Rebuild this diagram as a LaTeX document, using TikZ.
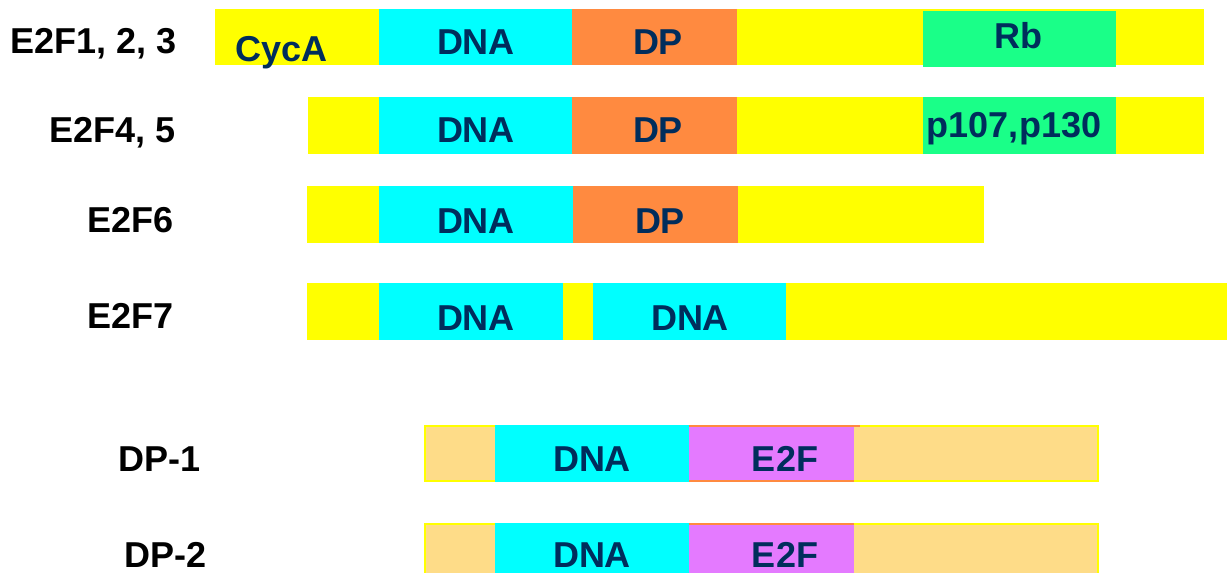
\documentclass[tikz,border=0pt]{standalone}
\usepackage{fontspec}
\setmainfont{Liberation Sans}
\definecolor{cYel}{HTML}{FFFF00}
\definecolor{cCyan}{HTML}{00FFFF}
\definecolor{cOrange}{HTML}{FF8A40}
\definecolor{cGreen}{HTML}{1AFF88}
\definecolor{cMag}{HTML}{E47AFF}
\definecolor{cTan}{HTML}{FEDC88}
\definecolor{cNavy}{HTML}{002D5C}
\tikzset{
  boxtxt/.style={anchor=base, inner sep=0pt, text=cNavy, font=\fontsize{36}{36}\selectfont\bfseries},
  rowlab/.style={anchor=base west, inner sep=0pt, text=black, font=\fontsize{36}{36}\selectfont\bfseries},
  tanbox/.style={fill=cTan, draw=cYel, line width=1.5pt},
  magbox/.style={fill=cMag},
}
\begin{document}
\begin{tikzpicture}[x=1pt,y=-1pt]
\useasboundingbox (0,0) rectangle (1227,573);
% ---------- Row 1: E2F1, 2, 3 ----------
\fill[cYel] (215,9) rectangle (1204,65);
\fill[cCyan] (379,9) rectangle (572,65);
\fill[cOrange] (572,9) rectangle (737,65);
\fill[cGreen] (923,11) rectangle (1116,67);
\node[rowlab] (l1) at (10,53) {E2F1, 2, 3};
\node[boxtxt] (r1a) at (281.5,61) {CycA};
\node[boxtxt] (r1b) at (476,54) {DNA};
\node[boxtxt] (r1c) at (658,54) {DP};
\node[boxtxt] (r1d) at (1018,48) {Rb};
% ---------- Row 2: E2F4, 5 ----------
\fill[cYel] (308,97) rectangle (1204,154);
\fill[cCyan] (379,97) rectangle (572,154);
\fill[cOrange] (572,97) rectangle (737,154);
\fill[cGreen] (923,97) rectangle (1116,154);
\node[rowlab] (l2) at (49,142) {E2F4, 5};
\node[boxtxt] (r2b) at (476,142) {DNA};
\node[boxtxt] (r2c) at (658,142) {DP};
\node[boxtxt] (r2d) at (1014,137) {p107,p130};
% ---------- Row 3: E2F6 ----------
\fill[cYel] (307,186) rectangle (984,243);
\fill[cCyan] (379,186) rectangle (573,243);
\fill[cOrange] (573,186) rectangle (738,243);
\node[rowlab] (l3) at (87,232) {E2F6};
\node[boxtxt] (r3b) at (476,233) {DNA};
\node[boxtxt] (r3c) at (660,233) {DP};
% ---------- Row 4: E2F7 ----------
\fill[cYel] (307,283) rectangle (1227,340);
\fill[cCyan] (379,283) rectangle (563,340);
\fill[cCyan] (593,283) rectangle (786,340);
\node[rowlab] (l4) at (87,328) {E2F7};
\node[boxtxt] (r4b) at (476,330) {DNA};
\node[boxtxt] (r4c) at (690,330) {DNA};
% ---------- DP-1 ----------
\path[tanbox] (425,426) rectangle (1098,481);
\fill[cCyan] (495,425) rectangle (689,482);
\fill[cMag] (689,425) rectangle (854,482);
\draw[cOrange, line width=1.5pt] (689,426) -- (860,426) (689,481) -- (854,481);
\node[rowlab] (l5) at (118,471) {DP-1};
\node[boxtxt] (r5b) at (592,471) {DNA};
\node[boxtxt] (r5c) at (785,471) {E2F};
% ---------- DP-2 ----------
\path[tanbox] (425,524) rectangle (1098,580);
\fill[cCyan] (495,523) rectangle (689,580);
\fill[cMag] (689,523) rectangle (854,580);
\draw[cOrange, line width=1.5pt] (689,524) -- (854,524);
\node[rowlab] (l6) at (124,567) {DP-2};
\node[boxtxt] (r6b) at (592,567) {DNA};
\node[boxtxt] (r6c) at (785,567) {E2F};
\end{tikzpicture}
\end{document}
